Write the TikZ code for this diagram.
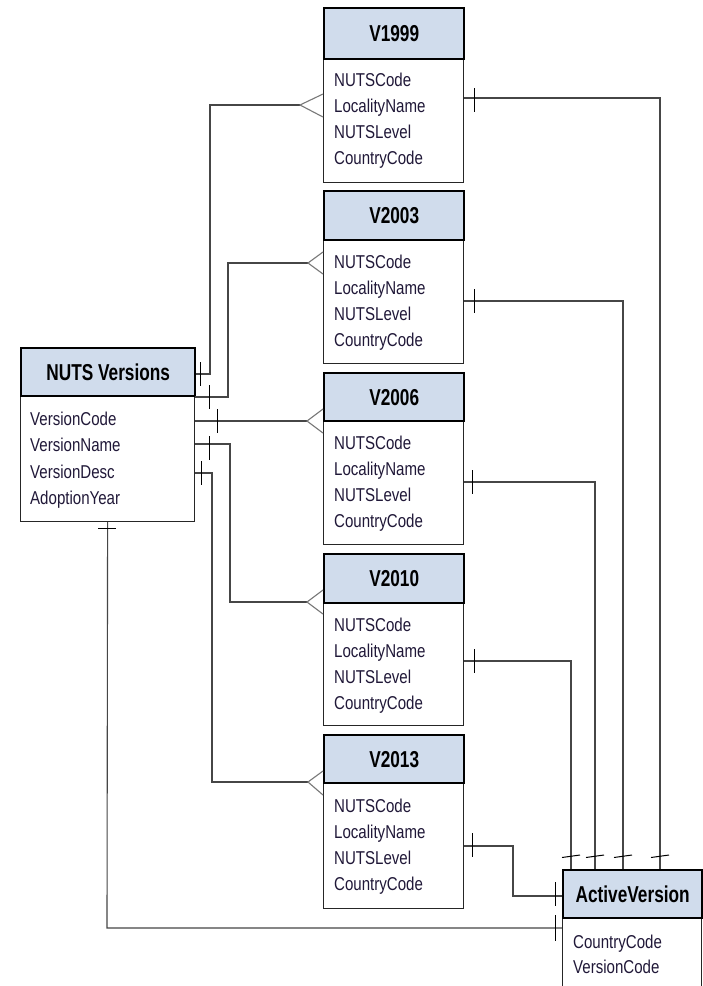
\documentclass[tikz,border=0pt]{standalone}
\usepackage{fontspec}
\setmainfont{Liberation Sans}[FakeStretch=0.81, BoldFeatures={FakeStretch=0.75}]
\definecolor{hdrfill}{RGB}{208,220,236}
\definecolor{txt}{RGB}{32,24,56}
\definecolor{conncol}{RGB}{70,70,70}
\definecolor{crowcol}{RGB}{120,120,120}
\tikzset{
 hdr/.style={draw=black, line width=2.4pt, fill=hdrfill, anchor=north west, inner sep=0pt, font=\bfseries\fontsize{23}{26}\selectfont},
 bodybox/.style={draw=black!85, line width=1.2pt, fill=white, anchor=north west, inner sep=0pt},
 attr/.style={anchor=base west, inner sep=0pt, text=txt, font=\fontsize{18.6}{22}\selectfont},
 conn/.style={draw=conncol, line width=1.1pt},
 crow/.style={draw=crowcol, line width=1.1pt},
 tickmark/.style={draw=black, line width=1pt},
}
\begin{document}
\begin{tikzpicture}[x=1pt,y=-1pt]
\useasboundingbox (0,0) rectangle (702,986);
\fill[white] (0,0) rectangle (702,986);

% ---- V boxes ----
\node[bodybox, minimum width=140pt, minimum height=124pt] (v1999B) at (323,58) {};
\node[hdr, minimum width=140pt, minimum height=51pt] (v1999H) at (323,7) {V1999};
\node[attr] (v1999a) at (334,86) {NUTSCode};
\node[attr] (v1999b) at (334,112) {LocalityName};
\node[attr] (v1999c) at (334,138) {NUTSLevel};
\node[attr] (v1999d) at (334,164) {CountryCode};

\node[bodybox, minimum width=140pt, minimum height=124pt] (v2003B) at (323,239) {};
\node[hdr, minimum width=140pt, minimum height=49pt] (v2003H) at (323,190) {V2003};
\node[attr] (v2003a) at (334,268) {NUTSCode};
\node[attr] (v2003b) at (334,294) {LocalityName};
\node[attr] (v2003c) at (334,320) {NUTSLevel};
\node[attr] (v2003d) at (334,346) {CountryCode};

\node[bodybox, minimum width=140pt, minimum height=124pt] (v2006B) at (323,420) {};
\node[hdr, minimum width=140pt, minimum height=48pt] (v2006H) at (323,372) {V2006};
\node[attr] (v2006a) at (334,449) {NUTSCode};
\node[attr] (v2006b) at (334,475) {LocalityName};
\node[attr] (v2006c) at (334,501) {NUTSLevel};
\node[attr] (v2006d) at (334,527) {CountryCode};

\node[bodybox, minimum width=140pt, minimum height=123pt] (v2010B) at (323,602) {};
\node[hdr, minimum width=140pt, minimum height=49pt] (v2010H) at (323,553) {V2010};
\node[attr] (v2010a) at (334,631) {NUTSCode};
\node[attr] (v2010b) at (334,657) {LocalityName};
\node[attr] (v2010c) at (334,683) {NUTSLevel};
\node[attr] (v2010d) at (334,709) {CountryCode};

\node[bodybox, minimum width=140pt, minimum height=126pt] (v2013B) at (323,782) {};
\node[hdr, minimum width=140pt, minimum height=48pt] (v2013H) at (323,734) {V2013};
\node[attr] (v2013a) at (334,812) {NUTSCode};
\node[attr] (v2013b) at (334,838) {LocalityName};
\node[attr] (v2013c) at (334,864) {NUTSLevel};
\node[attr] (v2013d) at (334,890) {CountryCode};

% ---- NUTS Versions ----
\node[bodybox, minimum width=174pt, minimum height=126pt] (nutsB) at (20,395) {};
\node[hdr, minimum width=174pt, minimum height=48pt] (nutsH) at (20,347) {NUTS Versions};
\node[attr] (nutsa) at (30,425) {VersionCode};
\node[attr] (nutsb) at (30,451.5) {VersionName};
\node[attr] (nutsc) at (30,478) {VersionDesc};
\node[attr] (nutsd) at (30,504.5) {AdoptionYear};

% ---- ActiveVersion ----
\node[bodybox, minimum width=139pt, minimum height=100pt] (activeB) at (562,917) {};
\node[hdr, minimum width=139pt, minimum height=48pt] (activeH) at (562,869) {ActiveVersion};
\node[attr] (activea) at (573,948) {CountryCode};
\node[attr] (activeb) at (573,973) {VersionCode};

% ---- connectors NUTS -> V boxes ----
\draw[conn] (nutsH.east |- 0,374) -- (210,374) -- (210,105) -- (300,105);
\draw[crow] (v1999B.west |- 0,94) -- (300,105) -- (v1999B.west |- 0,117);
\draw[tickmark] (200,362) -- (200,386);

\draw[conn] (nutsB.east |- 0,397) -- (228,397) -- (228,263) -- (308,263);
\draw[crow] (v2003B.west |- 0,252) -- (308,263) -- (v2003B.west |- 0,274);
\draw[tickmark] (209,385) -- (209,409);

\draw[conn] (nutsB.east |- 0,421) -- (307,421);
\draw[crow] (v2006H.west |- 0,409) -- (307,421) -- (v2006B.west |- 0,433);
\draw[tickmark] (217,409) -- (217,433);

\draw[conn] (nutsB.east |- 0,444) -- (230,444) -- (230,602) -- (307,602);
\draw[crow] (v2010H.west |- 0,590) -- (307,602) -- (v2010B.west |- 0,614);
\draw[tickmark] (209,436) -- (209,460);

\draw[conn] (nutsB.east |- 0,473) -- (212,473) -- (212,782) -- (308,782);
\draw[crow] (v2013H.west |- 0,771) -- (308,782) -- (v2013B.west |- 0,795);
\draw[tickmark] (201,461) -- (201,485);

% ---- NUTS -> ActiveVersion ----
\draw[conn] (nutsB.south) -- (107,928) -- (activeB.west |- 0,928);
\draw[tickmark] (98,528) -- (116,528);
\draw[tickmark] (555,915) -- (555,941);

% ---- V boxes -> ActiveVersion ----
\draw[conn] (v1999B.east |- 0,98) -- (660,98) -- (activeH.north -| 660,0);
\draw[tickmark] (474,88) -- (474,112);
\draw[conn] (v2003B.east |- 0,301) -- (623,301) -- (activeH.north -| 623,0);
\draw[tickmark] (474,289) -- (474,313);
\draw[conn] (v2006B.east |- 0,482) -- (595,482) -- (activeH.north -| 595,0);
\draw[tickmark] (472,470) -- (472,494);
\draw[conn] (v2010B.east |- 0,661) -- (571,661) -- (activeH.north -| 571,0);
\draw[tickmark] (474,649) -- (474,673);
\draw[conn] (v2013B.east |- 0,846) -- (513,846) -- (513,896) -- (activeH.west |- 0,896);
\draw[tickmark] (472,833) -- (472,857);
\draw[tickmark] (555,882) -- (555,906);

\draw[tickmark] (562,857.5) -- (580,855);
\draw[tickmark] (586,857.5) -- (604,855);
\draw[tickmark] (614,857.5) -- (632,855);
\draw[tickmark] (651,857.5) -- (669,855);
\end{tikzpicture}
\end{document}
